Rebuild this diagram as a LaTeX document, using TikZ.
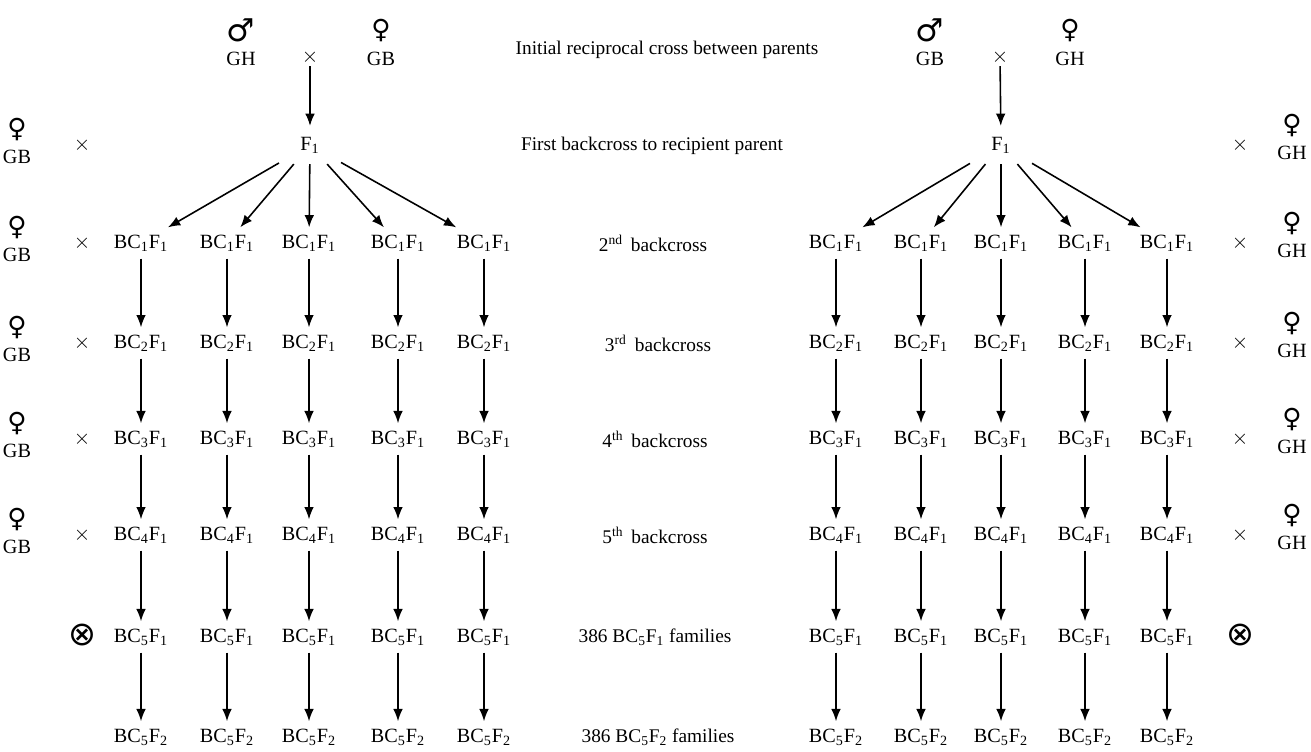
\documentclass[tikz,border=0pt]{standalone}
\usepackage{fontspec}
\setmainfont{Liberation Serif}
\newfontfamily\symfont{DejaVu Sans}
\usetikzlibrary{arrows.meta}

\newcommand{\malesym}{{\symfont\bfseries\fontsize{18}{18}\selectfont ♂}}
\newcommand{\femsym}{{\symfont\fontsize{15}{15}\selectfont ♀}}
\newcommand{\selfsym}{{\symfont\fontsize{19}{19}\selectfont ⊗}}

\tikzset{
  gen/.style={inner sep=4pt, font=\fontsize{11.5}{13}\selectfont},
  parent/.style={inner sep=0pt, font=\fontsize{11.5}{13}\selectfont},
  cross/.style={inner sep=1pt, font=\fontsize{12}{13}\selectfont},
  stage/.style={inner sep=1pt, font=\fontsize{11}{12}\selectfont},
  arr/.style={-{Latex[length=7pt,width=5.5pt]}, line width=0.9pt},
}

\begin{document}
\begin{tikzpicture}[x=0.02cm, y=-0.02cm]

  % Page frame
  \useasboundingbox (0,0) rectangle (1311,751);

  % Parents of the initial cross
  \node[parent] (lm) at (241,30) {\malesym};
  \node[parent] (lmname) at (241,59) {GH};
  \node[cross] (lx) at (310,57) {$\times$};
  \node[parent] (lf) at (381,31) {\femsym};
  \node[parent] (lfname) at (381,59) {GB};

  \node[parent] (rm) at (930,30) {\malesym};
  \node[parent] (rmname) at (930,59) {GB};
  \node[cross] (rx) at (1000,57) {$\times$};
  \node[parent] (rf) at (1070,31) {\femsym};
  \node[parent] (rfname) at (1070,59) {GH};

  % F1 of both crosses
  \node[gen, inner xsep=12pt, inner ysep=6pt] (LF) at (310,145) {F\textsubscript{1}};
  \node[gen, inner xsep=12pt, inner ysep=6pt] (RF) at (1001,145) {F\textsubscript{1}};
  \draw[arr] (lx) -- (LF);
  \draw[arr] (rx) -- (RF);

  % Backcross generations
  \foreach \r/\y/\g/\k in {1/243/1/1, 2/343/2/1, 3/439/3/1, 4/535/4/1, 5/637/5/1, 6/737/5/2} {
    \foreach \c/\xl/\xr in {1/141/836, 2/227/921, 3/309/1001, 4/398/1085, 5/484/1167} {
      \node[gen] (L\r-\c) at (\xl,\y) {BC\textsubscript{\g}F\textsubscript{\k}};
      \node[gen] (R\r-\c) at (\xr,\y) {BC\textsubscript{\g}F\textsubscript{\k}};
    }
  }

  % Arrows from F1 to the first backcross
  \foreach \c in {1,...,5} {
    \draw[arr] (LF) -- (L1-\c);
    \draw[arr] (RF) -- (R1-\c);
  }

  % Arrows down each line
  \foreach \r in {1,...,5} {
    \pgfmathtruncatemacro{\n}{\r+1}
    \foreach \c in {1,...,5} {
      \draw[arr] (L\r-\c) -- (L\n-\c);
      \draw[arr] (R\r-\c) -- (R\n-\c);
    }
  }

  % Recurrent parents on the sides
  \foreach \y/\i in {145/0, 243/1, 343/2, 439/3, 535/4} {
    \node[parent] (lrf\i) at (17,\y-15) {\femsym};
    \node[parent] (lrn\i) at (17,\y+12) {GB};
    \node[cross] (lrx\i) at (82,\y) {$\times$};
    \node[parent] (rrf\i) at (1292,\y-19) {\femsym};
    \node[parent] (rrn\i) at (1292,\y+8) {GH};
    \node[cross] (rrx\i) at (1240,\y) {$\times$};
  }

  % Selfing
  \node[parent] (lself) at (82,635) {\selfsym};
  \node[parent] (rself) at (1240,635) {\selfsym};

  % Stage labels in the middle
  \node[stage] (s0) at (667,50) {Initial reciprocal cross between parents};
  \node[stage] (s1) at (652,146) {First backcross to recipient parent};
  \node[stage] (s2) at (653,243) {2\textsuperscript{nd}\, backcross};
  \node[stage] (s3) at (658,343) {3\textsuperscript{rd}\, backcross};
  \node[stage] (s4) at (655,439) {4\textsuperscript{th}\, backcross};
  \node[stage] (s5) at (655,535) {5\textsuperscript{th}\, backcross};
  \node[stage] (s6) at (655,637) {386 BC\textsubscript{5}F\textsubscript{1} families};
  \node[stage] (s7) at (658,737) {386 BC\textsubscript{5}F\textsubscript{2} families};

\end{tikzpicture}
\end{document}
